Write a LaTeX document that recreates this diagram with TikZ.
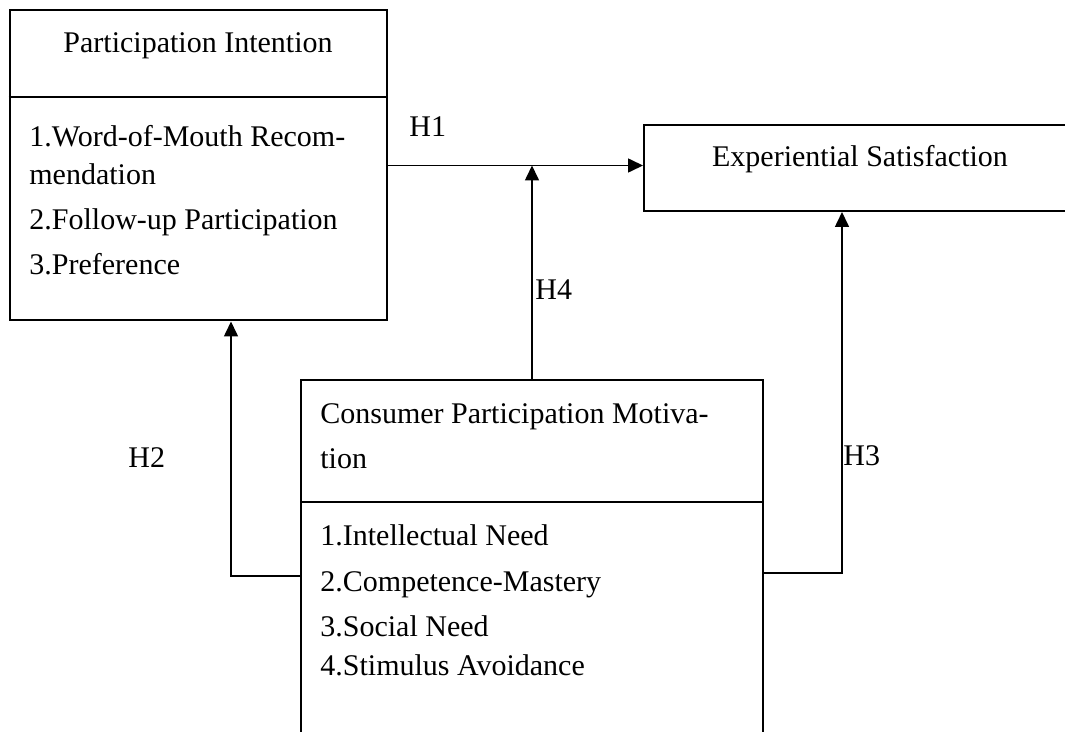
\documentclass[tikz,border=0pt]{standalone}
\usepackage{fontspec}
\setmainfont{Liberation Serif}
\usetikzlibrary{arrows.meta,calc}
\tikzset{
  boxline/.style={draw=black,line width=1pt},
  frame/.style={boxline,rectangle,inner sep=0pt,fill=none},
  txt/.style={inner sep=0pt,anchor=base west,font=\fontsize{15}{18}\selectfont},
  lbl/.style={inner sep=0pt,anchor=base west,font=\fontsize{15}{18}\selectfont},
  arr/.style={draw=black,line width=0.8pt,-{Triangle[length=7.5pt,width=7pt]}},
  link/.style={draw=black,line width=0.8pt},
}
\begin{document}
\begin{tikzpicture}[x=0.5pt,y=-0.5pt]
\useasboundingbox (0,0) rectangle (1065,732);
\clip (0,0) rectangle (1065,732);
% boxes
\node[frame,minimum width=377*0.5pt,minimum height=310*0.5pt] (pi) at (198,165.5) {};
\node[frame,minimum width=440*0.5pt,minimum height=86*0.5pt] (es) at (864,168) {};
\node[frame,minimum width=462*0.5pt,minimum height=380*0.5pt] (cpm) at (532,570) {};
% dividers
\coordinate (pidiv) at (0,97);
\draw[boxline] (pi.west |- pidiv) -- (pi.east |- pidiv);
\coordinate (cpmdiv) at (0,502);
\draw[boxline] (cpm.west |- cpmdiv) -- (cpm.east |- cpmdiv);
% texts of Participation Intention
\node[txt,anchor=base] (pit) at (198,53) {Participation Intention};
\node[txt] (pi1) at (29,147) {1.Word-of-Mouth Recom-};
\node[txt] (pi1b) at (29,185) {mendation};
\node[txt] (pi2) at (29,230) {2.Follow-up Participation};
\node[txt] (pi3) at (29,275) {3.Preference};
% Experiential Satisfaction
\node[txt,anchor=base] (est) at (860,167) {Experiential Satisfaction};
% Consumer Participation Motivation
\node[txt] (cpt1) at (320,423) {Consumer Participation Motiva-};
\node[txt] (cpt2) at (320,468) {tion};
\node[txt] (cp1) at (320,545) {1.Intellectual Need};
\node[txt] (cp2) at (320,591) {2.Competence-Mastery};
\node[txt] (cp3) at (320,636) {3.Social Need};
\node[txt] (cp4) at (320,675) {4.Stimulus Avoidance};
% connectors
\coordinate (j) at (532,165.5);
\draw[arr] (pi.east) -- (pi.east -| es.west);
\draw[arr] (cpm.north -| j) -- (j);
\coordinate (h3c) at (842,573);
\draw[arr] (cpm.east |- h3c) -- (h3c) -- (h3c |- es.south);
\coordinate (h2c) at (231,576);
\draw[arr] (cpm.west |- h2c) -- (h2c) -- (h2c |- pi.south);
% labels
\node[lbl] (h1) at (409,137) {H1};
\node[lbl] (h4) at (535,300) {H4};
\node[lbl] (h2) at (128,467) {H2};
\node[lbl] (h3) at (843,466) {H3};
\end{tikzpicture}
\end{document}
